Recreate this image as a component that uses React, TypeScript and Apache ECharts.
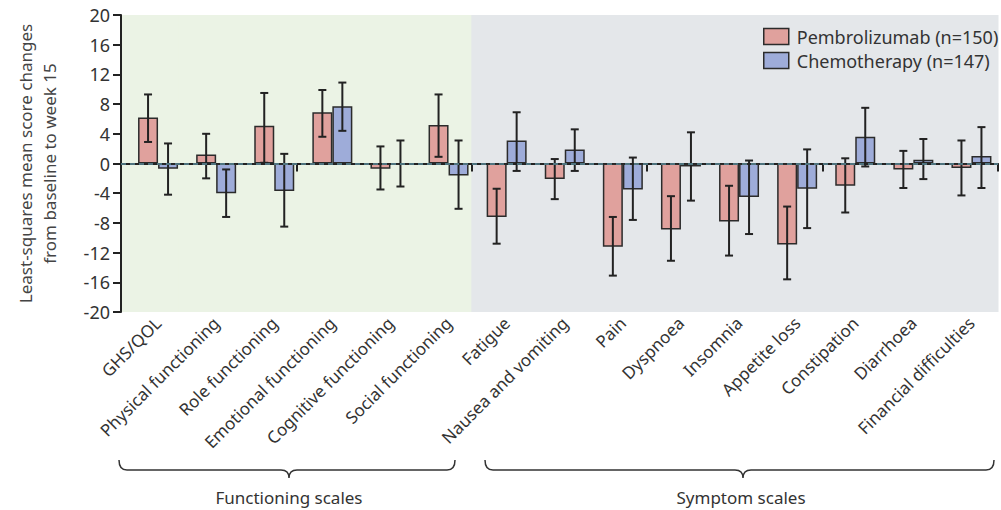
import React, { useEffect, useRef } from 'react';
import * as echarts from 'echarts';

const categories = [
  'GHS/QOL',
  'Physical functioning',
  'Role functioning',
  'Emotional functioning',
  'Cognitive functioning',
  'Social functioning',
  'Fatigue',
  'Nausea and vomiting',
  'Pain',
  'Dyspnoea',
  'Insomnia',
  'Appetite loss',
  'Constipation',
  'Diarrhoea',
  'Financial difficulties',
];

const pembroName = 'Pembrolizumab (n=150)';
const chemoName = 'Chemotherapy (n=147)';

const pembro = [6.2, 1.2, 5.1, 6.9, -0.7, 5.2, -7.2, -2.1, -11.2, -8.9, -7.8, -10.9, -3.0, -0.8, -0.6];
const pembroLow = [2.9, -2.0, 0.1, 3.6, -3.5, 0.9, -10.8, -4.8, -15.1, -13.1, -12.4, -15.6, -6.6, -3.3, -4.3];
const pembroHigh = [9.3, 4.0, 9.5, 9.9, 2.3, 9.3, -3.4, 0.6, -7.2, -4.4, -3.0, -5.8, 0.7, 1.7, 3.1];

const chemo = [-0.7, -4.0, -3.7, 7.7, -0.2, -1.6, 3.1, 1.9, -3.5, -0.4, -4.5, -3.4, 3.6, 0.5, 1.0];
const chemoLow = [-4.2, -7.2, -8.5, 4.4, -3.1, -6.1, -1.0, -1.0, -7.6, -5.0, -9.5, -8.7, -0.4, -2.1, -3.3];
const chemoHigh = [2.7, -0.8, 1.3, 10.9, 3.1, 3.1, 6.9, 4.6, 0.8, 4.2, 0.4, 1.9, 7.5, 3.3, 4.9];

// 0 = functioning scales, 1 = symptom scales
const scaleGroup = [0, 0, 0, 0, 0, 0, 1, 1, 1, 1, 1, 1, 1, 1, 1];
const groupNames = ['Functioning scales', 'Symptom scales'];

const yMin = -20;
const yMax = 20;
const yInterval = 4;

const FONT = '"Noto Sans", "Open Sans", sans-serif';

function bracePath(x1: number, x2: number, xm: number, yTop: number, yMid: number, yTip: number) {
  const r = 8;
  return (
    `M${x1} ${yTop} Q${x1} ${yMid} ${x1 + r} ${yMid} ` +
    `L${xm - r} ${yMid} Q${xm} ${yMid} ${xm} ${yTip} ` +
    `Q${xm} ${yMid} ${xm + r} ${yMid} L${x2 - r} ${yMid} ` +
    `Q${x2} ${yMid} ${x2} ${yTop}`
  );
}

echarts.graphic.registerShape(
  'braceFunctioning',
  echarts.graphic.extendPath(bracePath(119, 455, 289, 460, 470, 478), {})
);
echarts.graphic.registerShape(
  'braceSymptom',
  echarts.graphic.extendPath(bracePath(485, 994, 743, 460, 470, 478), {})
);

const PEMBRO_OFFSET = -10;
const CHEMO_OFFSET = 10;

function errorRenderer(offset: number) {
  return (params: any, api: any) => {
    const idx = api.value(0);
    const x = api.coord([idx, 0])[0] + offset;
    const yLo = api.coord([idx, api.value(1)])[1];
    const yHi = api.coord([idx, api.value(2)])[1];
    const cap = 4;
    const style = { stroke: '#222', lineWidth: 2 };
    return {
      type: 'group',
      children: [
        { type: 'line', shape: { x1: x, y1: yLo, x2: x, y2: yHi }, style },
        { type: 'line', shape: { x1: x - cap, y1: yLo, x2: x + cap, y2: yLo }, style },
        { type: 'line', shape: { x1: x - cap, y1: yHi, x2: x + cap, y2: yHi }, style },
      ],
    };
  };
}

export default function App() {
  const ref = useRef<HTMLDivElement>(null);

  useEffect(() => {
    if (!ref.current) return;
    const chart = echarts.init(ref.current, undefined, { renderer: 'svg' });

    const option: any = {
      animation: false,
      textStyle: { fontFamily: FONT },
      grid: [
        { left: 121, right: 3, top: 15, bottom: 198, containLabel: false },
        { left: 129, right: 0.5, top: 15, bottom: 198, containLabel: false },
      ],
      legend: {
        data: [pembroName, chemoName],
        orient: 'vertical',
        left: 763,
        top: 27.5,
        padding: 0,
        icon: 'rect',
        itemWidth: 25,
        itemHeight: 16,
        itemGap: 6,
        textStyle: { fontSize: 18, color: '#333', fontFamily: FONT, padding: [0, 0, 0, 3] },
        itemStyle: { borderColor: '#2b2b2b', borderWidth: 1.5 },
        selectedMode: false,
      },
      xAxis: [
        {
          type: 'category',
          gridIndex: 0,
          data: categories,
          axisLine: { lineStyle: { color: '#222', width: 2 } },
          axisTick: { show: true, length: 8, lineStyle: { color: '#222', width: 2 } },
          axisLabel: { show: false },
        },
        {
          type: 'category',
          gridIndex: 1,
          data: categories,
          axisLine: { show: false },
          axisTick: { show: false },
          axisLabel: {
            rotate: 45,
            interval: 0,
            margin: 8,
            fontSize: 17,
            color: '#333',
            fontFamily: FONT,
          },
        },
      ],
      yAxis: [
        {
          type: 'value',
          gridIndex: 0,
          min: yMin,
          max: yMax,
          interval: yInterval,
          axisLine: { show: true, lineStyle: { color: '#222', width: 2 } },
          axisTick: { show: true, length: 8, lineStyle: { color: '#222', width: 2 } },
          axisLabel: { fontSize: 18, margin: 11, color: '#333', fontFamily: FONT },
          splitLine: { show: false },
          name: 'Least-squares mean score changes\nfrom baseline to week 15',
          nameLocation: 'middle',
          nameGap: 60,
          nameTextStyle: { fontSize: 17, lineHeight: 24, color: '#444', fontFamily: FONT },
        },
        {
          type: 'value',
          gridIndex: 1,
          min: yMin,
          max: yMax,
          interval: yInterval,
          show: false,
          splitLine: { show: false },
        },
      ],
      series: [
        {
          type: 'custom',
          name: 'bg',
          silent: true,
          z: 0,
          xAxisIndex: 0,
          yAxisIndex: 0,
          data: categories.map((_, i) => [i, scaleGroup[i]]),
          encode: { x: 0, y: 1 },
          renderItem: (params: any, api: any) => {
            const cs = params.coordSys;
            const idx = api.value(0);
            const cx = api.coord([idx, 0])[0];
            const w = api.size([1, 0])[0];
            return {
              type: 'rect',
              shape: { x: cx - w / 2 - 0.5, y: cs.y, width: w + 1, height: cs.height },
              style: { fill: api.value(1) === 0 ? '#ebf3e5' : '#e4e7ea' },
            };
          },
          markLine: {
            silent: true,
            symbol: ['none', 'none'],
            label: { show: false },
            z: 5,
            lineStyle: { color: '#5d8f9d', type: [5, 4], width: 1.5 },
            data: [{ yAxis: 0 }],
          },
        },
        {
          type: 'bar',
          name: pembroName,
          xAxisIndex: 1,
          yAxisIndex: 1,
          barWidth: 20,
          z: 2,
          data: pembro,
          itemStyle: { color: '#e0a19d', borderColor: '#2b2b2b', borderWidth: 1.5 },
        },
        {
          type: 'bar',
          name: chemoName,
          xAxisIndex: 1,
          yAxisIndex: 1,
          barWidth: 20,
          barGap: '0%',
          z: 2,
          data: chemo,
          itemStyle: { color: '#9eacd9', borderColor: '#2b2b2b', borderWidth: 1.5 },
        },
        {
          type: 'custom',
          name: 'pembroErr',
          xAxisIndex: 1,
          yAxisIndex: 1,
          z: 4,
          silent: true,
          data: categories.map((_, i) => [i, pembroLow[i], pembroHigh[i]]),
          encode: { x: 0, y: [1, 2] },
          renderItem: errorRenderer(PEMBRO_OFFSET),
        },
        {
          type: 'custom',
          name: 'chemoErr',
          xAxisIndex: 1,
          yAxisIndex: 1,
          z: 4,
          silent: true,
          data: categories.map((_, i) => [i, chemoLow[i], chemoHigh[i]]),
          encode: { x: 0, y: [1, 2] },
          renderItem: errorRenderer(CHEMO_OFFSET),
        },
      ],
      graphic: [
        {
          type: 'braceFunctioning',
          x: 0,
          y: 0,
          silent: true,
          style: { fill: 'none', stroke: '#333', lineWidth: 1.5 },
        },
        {
          type: 'braceSymptom',
          x: 0,
          y: 0,
          silent: true,
          style: { fill: 'none', stroke: '#333', lineWidth: 1.5 },
        },
        {
          type: 'text',
          x: 289,
          y: 497,
          silent: true,
          style: {
            text: groupNames[0],
            fontSize: 17,
            fontFamily: FONT,
            fill: '#333',
            textAlign: 'center',
            textVerticalAlign: 'middle',
          },
        },
        {
          type: 'text',
          x: 741,
          y: 497,
          silent: true,
          style: {
            text: groupNames[1],
            fontSize: 17,
            fontFamily: FONT,
            fill: '#333',
            textAlign: 'center',
            textVerticalAlign: 'middle',
          },
        },
      ],
    };

    chart.setOption(option);
    return () => chart.dispose();
  }, []);

  return (
    <div
      ref={ref}
      style={{ position: 'fixed', left: 0, top: 0, width: 1001, height: 510, background: '#fff' }}
    />
  );
}
